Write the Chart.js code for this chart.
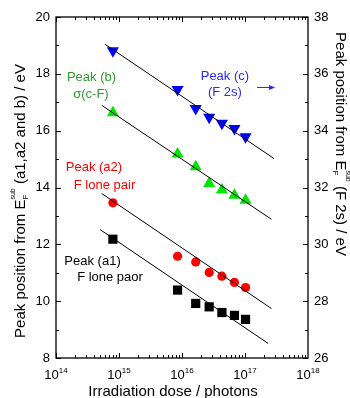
<!DOCTYPE html>
<html>
<head>
<meta charset="utf-8">
<script src="https://cdn.jsdelivr.net/npm/chart.js@4/dist/chart.umd.min.js"></script>
<style>
  body { margin: 0; background: #fff; }
  #wrap { width: 350px; height: 398px; }
</style>
</head>
<body>
<div id="wrap"><canvas id="peakChart" width="350" height="398"></canvas></div>
<script>
// doses (photons) and peak positions (eV)
const doses = [8e14, 8.5e15, 1.65e16, 2.7e16, 4.3e16, 6.8e16, 1.02e17];
const peakA1 = [12.18, 10.39, 9.92, 9.80, 9.60, 9.50, 9.36];
const peakA2 = [13.46, 11.58, 11.38, 11.01, 10.88, 10.66, 10.48];
const peakB = [16.63, 15.18, 14.73, 14.14, 13.91, 13.73, 13.55];
const peakC = [36.81, 35.45, 34.78, 34.47, 34.26, 34.08, 33.79]; // right axis

// linear fits (end points)
const fitA1X = [5.0e14, 2.34e17], fitA1Y = [12.52, 8.51];
const fitA2X = [5.3e14, 2.63e17], fitA2Y = [13.79, 9.74];
const fitBX = [5.4e14, 2.63e17], fitBY = [16.88, 12.88];
const fitCX = [6.0e14, 2.88e17], fitCY = [37.04, 33.02];

const xDecades = [14, 15, 16, 17, 18];
const leftTicks = [8, 10, 12, 14, 16, 18, 20];
const rightTicks = [26, 28, 30, 32, 34, 36, 38];

const FONT = '"Liberation Sans", Arial, sans-serif';

function pts(xs, ys) {
  return xs.map((x, i) => ({ x: x, y: ys[i] }));
}

function markers(label, ys, color, style, radius, rotation, axis) {
  return {
    label: label, data: pts(doses, ys), showLine: false, yAxisID: axis || 'y',
    pointStyle: style, pointRadius: radius, pointRotation: rotation || 0,
    pointBackgroundColor: color, pointBorderColor: color, pointBorderWidth: 0
  };
}

function fitLine(xs, ys, axis) {
  return {
    label: 'fit', data: pts(xs, ys), showLine: true, yAxisID: axis || 'y',
    borderColor: '#000', borderWidth: 1, pointRadius: 0
  };
}

// draws text made of pieces [text, size, dy, noAdvance]
function richText(ctx, pieces, x, y, color, align) {
  let w = 0;
  pieces.forEach(p => { ctx.font = p[1] + 'px ' + FONT; p.w = ctx.measureText(p[0]).width; if (!p[3]) w += p.w; });
  let cx = align === 'left' ? x : x - w / 2;
  ctx.fillStyle = color;
  ctx.textAlign = 'left';
  ctx.textBaseline = 'alphabetic';
  pieces.forEach(p => {
    ctx.font = p[1] + 'px ' + FONT;
    ctx.fillText(p[0], cx, y + p[2]);
    if (!p[3]) cx += p.w;
  });
}

const labels = [
  { t: 'Peak (b)', x: 3.66e14, y: 17.89, c: '#2f9a2f' },
  { t: '\u03c3(c-F)', x: 3.59e14, y: 17.26, c: '#2f9a2f' },
  { t: 'Peak (a2)', x: 4.0e14, y: 14.69, c: '#ff0000' },
  { t: 'F lone pair', x: 5.89e14, y: 14.09, c: '#ff0000' },
  { t: 'Peak (a1)', x: 3.8e14, y: 11.41, c: '#000' },
  { t: 'F lone paor', x: 7.2e14, y: 10.82, c: '#000' },
  { t: 'Peak (c)', x: 4.8e16, y: 17.92, c: '#2a2aff' },
  { t: '(F 2s)', x: 4.8e16, y: 17.33, c: '#2a2aff' }
];

const decor = {
  id: 'decor',
  afterDraw(chart) {
    const ctx = chart.ctx;
    const a = chart.chartArea;
    const xs = chart.scales.x, ys = chart.scales.y, y2 = chart.scales.y2;
    ctx.save();
    ctx.strokeStyle = '#000';
    ctx.lineWidth = 1.3;
    ctx.strokeRect(a.left, a.top, a.right - a.left, a.bottom - a.top);

    // x ticks (inward, top and bottom)
    ctx.lineWidth = 1;
    ctx.beginPath();
    for (let d = 14; d < 18; d++) {
      for (let m = 1; m <= 9; m++) {
        const px = Math.round(xs.getPixelForValue(m * Math.pow(10, d))) + 0.5;
        const len = m === 1 ? 5 : 3;
        ctx.moveTo(px, a.bottom); ctx.lineTo(px, a.bottom - len);
        ctx.moveTo(px, a.top); ctx.lineTo(px, a.top + len);
      }
    }
    // y ticks
    for (let v = 8; v <= 20; v++) {
      const py = Math.round(ys.getPixelForValue(v)) + 0.5;
      const len = v % 2 === 0 ? 5 : 3;
      ctx.moveTo(a.left, py); ctx.lineTo(a.left + len, py);
    }
    for (let v = 26; v <= 38; v++) {
      const py = Math.round(y2.getPixelForValue(v)) + 0.5;
      const len = v % 2 === 0 ? 5 : 3;
      ctx.moveTo(a.right, py); ctx.lineTo(a.right - len, py);
    }
    ctx.stroke();

    // tick labels
    xDecades.forEach(d => {
      const px = xs.getPixelForValue(Math.pow(10, d));
      richText(ctx, [['10', 13, 0], [String(d), 8, -6]], px, a.bottom + 21, '#000');
    });
    ctx.font = '13px ' + FONT;
    ctx.fillStyle = '#000';
    ctx.textBaseline = 'middle';
    ctx.textAlign = 'right';
    leftTicks.forEach(v => ctx.fillText(String(v), a.left - 6, ys.getPixelForValue(v)));
    ctx.textAlign = 'left';
    rightTicks.forEach(v => ctx.fillText(String(v), a.right + 6, y2.getPixelForValue(v)));

    // axis titles
    richText(ctx, [['Irradiation dose / photons', 15, 0]], 173, 396, '#000');

    ctx.save();
    ctx.translate(25, 201);
    ctx.rotate(-Math.PI / 2);
    richText(ctx, [['Peak position from E', 15, 0], ['F', 8, 3, true], ['sub', 7, -10], [' (a1,a2 and b) / eV', 15, 0]], 0, 0, '#000');
    ctx.restore();

    ctx.save();
    ctx.translate(336, 144);
    ctx.rotate(Math.PI / 2);
    richText(ctx, [['Peak position from E', 15, 0], ['F', 8, 3, true], ['sub', 7, -10], [' (F 2s) / eV', 15, 0]], 0, 0, '#000');
    ctx.restore();

    // annotations
    ctx.font = '13px ' + FONT;
    ctx.textAlign = 'center';
    ctx.textBaseline = 'middle';
    labels.forEach(l => {
      ctx.fillStyle = l.c;
      ctx.fillText(l.t, xs.getPixelForValue(l.x), ys.getPixelForValue(l.y));
    });

    // arrow for peak (c)
    const ax0 = xs.getPixelForValue(1.55e17), ax1 = xs.getPixelForValue(3.0e17);
    const ay = Math.round(ys.getPixelForValue(17.54)) + 0.5;
    ctx.strokeStyle = '#2a2aff';
    ctx.fillStyle = '#2a2aff';
    ctx.lineWidth = 1;
    ctx.beginPath(); ctx.moveTo(ax0, ay); ctx.lineTo(ax1 - 4, ay); ctx.stroke();
    ctx.beginPath(); ctx.moveTo(ax1, ay); ctx.lineTo(ax1 - 6, ay - 2.5); ctx.lineTo(ax1 - 6, ay + 2.5); ctx.closePath(); ctx.fill();
    ctx.restore();
  }
};

new Chart(document.getElementById('peakChart').getContext('2d'), {
  type: 'scatter',
  data: {
    datasets: [
      fitLine(fitA1X, fitA1Y),
      fitLine(fitA2X, fitA2Y),
      fitLine(fitBX, fitBY),
      fitLine(fitCX, fitCY, 'y2'),
      markers('Peak (a1)', peakA1, '#000000', 'rect', 6.5),
      markers('Peak (a2)', peakA2, '#ff0000', 'circle', 4.6),
      markers('Peak (b)', peakB, '#00e600', 'triangle', 7),
      markers('Peak (c)', peakC, '#0000ff', 'triangle', 7, 180, 'y2')
    ]
  },
  options: {
    responsive: false,
    animation: false,
    layout: { padding: { top: 17, left: 0, right: 0, bottom: 0 } },
    plugins: { legend: { display: false }, tooltip: { enabled: false } },
    scales: {
      x: {
        type: 'logarithmic', min: 1e14, max: 1e18,
        ticks: { display: false }, grid: { display: false }, border: { display: false },
        afterFit: s => { s.height = 40; }
      },
      y: {
        position: 'left', min: 8, max: 20,
        ticks: { display: false }, grid: { display: false }, border: { display: false },
        afterFit: s => { s.width = 56; }
      },
      y2: {
        position: 'right', min: 26, max: 38,
        ticks: { display: false }, grid: { display: false }, border: { display: false },
        afterFit: s => { s.width = 42; }
      }
    }
  },
  plugins: [decor]
});
</script>
</body>
</html>
